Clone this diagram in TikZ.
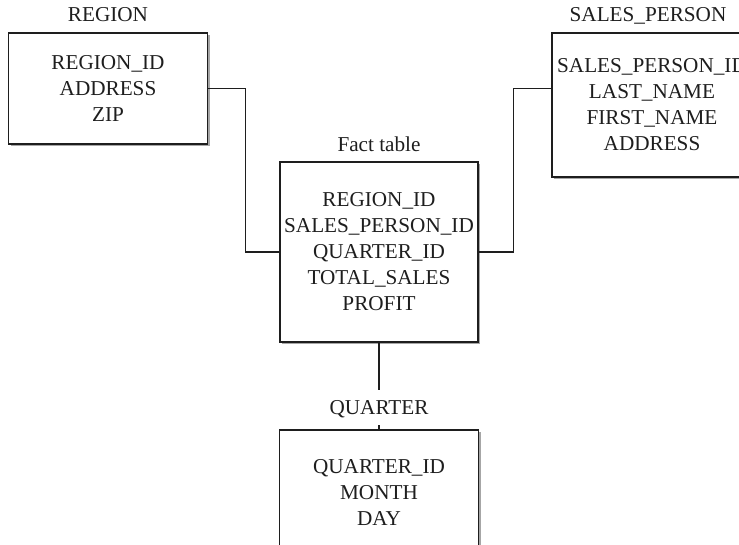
\documentclass[tikz,border=0pt]{standalone}
\usepackage{fontspec}
\setmainfont{Liberation Serif}
\usepackage{tikz}
\usetikzlibrary{positioning, shadows}
\definecolor{mInk}{HTML}{1E1E1E}

\begin{document}
\begin{tikzpicture}[
  x=0.5pt, y=-0.5pt,
  table/.style={draw=mInk, line width=0.7pt, fill=white, align=center,
                font=\fontsize{10.6}{13}\selectfont, text=mInk, inner sep=0pt,
                drop shadow={shadow xshift=1pt, shadow yshift=-1pt,
                             fill=black!35, opacity=1}},
  title/.style={font=\fontsize{10.6}{13}\selectfont, text=mInk, inner sep=0pt,
                text depth=0pt},
  link/.style={draw=mInk, line width=0.7pt},
]
  \useasboundingbox (0,0) rectangle (739,545);
  \clip (0,0) rectangle (739,545);

  \node[table, minimum width=99.5pt, minimum height=55.5pt] (region) at (108,88.5)
    {REGION\_ID\\ADDRESS\\ZIP};
  \node[table, minimum width=99pt, minimum height=90pt] (fact) at (379,252)
    {REGION\_ID\\SALES\_PERSON\_ID\\QUARTER\_ID\\TOTAL\_SALES\\PROFIT};
  \node[table, minimum width=100pt, minimum height=72pt] (sales) at (652,105)
    {SALES\_PERSON\_ID\\LAST\_NAME\\FIRST\_NAME\\ADDRESS};
  \node[table, minimum width=99.5pt, minimum height=62.5pt] (quarter) at (379,492.5)
    {QUARTER\_ID\\MONTH\\DAY};

  \node[title, above=5pt of region] (regiontitle) {REGION};
  \node[title, above=4.5pt of fact] (facttitle) {Fact table};
  \node[title, above=5pt of sales, xshift=-2pt] (salestitle) {SALES\_PERSON};
  \node[title, inner ysep=5pt, above=2pt of quarter] (quartertitle) {QUARTER};

  % connectors
  \draw[link] (region.east) -- ++(37.5,0) |- (fact.west);
  \draw[link] (fact.east) -- ++(35,0) |- (sales.west |- region.east);
  \draw[link] (fact.south) -- (quartertitle.north);
  \draw[link] (quartertitle.south) -- (quarter.north);
\end{tikzpicture}
\end{document}
